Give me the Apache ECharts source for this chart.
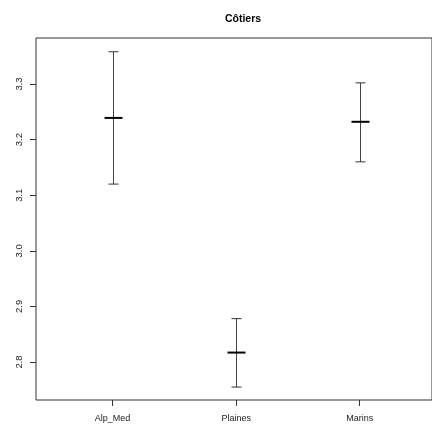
<!DOCTYPE html>
<html>
<head>
<meta charset="utf-8">
<script src="https://cdn.jsdelivr.net/npm/echarts@6/dist/echarts.min.js"></script>
<style>html,body{margin:0;padding:0;background:#fff}#c{width:432px;height:429px}</style>
</head>
<body>
<div id="c"></div>
<script>
var title = "Côtiers";
var categories = ["Alp_Med", "Plaines", "Marins"];
var means = [3.239, 2.817, 3.232];
var lows = [3.120, 2.755, 3.160];
var highs = [3.358, 2.878, 3.302];
var yTicks = [2.8, 2.9, 3.0, 3.1, 3.2, 3.3];

var data = categories.map(function (c, i) { return [i + 1, lows[i], means[i], highs[i]]; });

var chart = echarts.init(document.getElementById('c'));
chart.setOption({
  animation: false,
  backgroundColor: '#fff',
  title: {
    text: title, left: 238, top: 9, textAlign: 'center',
    textStyle: { fontFamily: 'Liberation Sans', fontSize: 10.5, fontWeight: 'bold', color: '#000' }
  },
  grid: { left: 36, top: 38, bottom: 29, right: -3, show: true, borderColor: '#333', borderWidth: 1, backgroundColor: 'transparent' },
  xAxis: {
    type: 'value', min: 0.38, max: 3.585, interval: 1,
    splitLine: { show: false },
    axisLine: { show: false },
    axisTick: { show: true, length: 6, lineStyle: { color: '#333' }, customValues: [1, 2, 3] },
    axisLabel: {
      customValues: [1, 2, 3], margin: 14, fontFamily: 'Liberation Sans', fontSize: 9, color: '#222',
      formatter: function (v) { return categories[Math.round(v) - 1] || ''; }
    }
  },
  yAxis: {
    type: 'value', min: 2.7317, max: 3.3827,
    splitLine: { show: false },
    axisLine: { show: false },
    axisTick: { show: true, length: 6, lineStyle: { color: '#333' }, customValues: yTicks },
    axisLabel: {
      customValues: yTicks, rotate: 90, margin: 12, fontFamily: 'Liberation Sans', fontSize: 9.5, color: '#222',
      formatter: function (v) { return v.toFixed(1); }
    }
  },
  series: [{
    type: 'custom',
    data: data,
    encode: { x: 0, y: [1, 2, 3] },
    renderItem: function (params, api) {
      var x = api.value(0);
      var lo = api.coord([x, api.value(1)]);
      var mid = api.coord([x, api.value(2)]);
      var hi = api.coord([x, api.value(3)]);
      var cx = Math.round(lo[0]) + 0.5;
      var capW = 5, meanW = 9;
      return {
        type: 'group',
        children: [
          { type: 'line', shape: { x1: cx, y1: hi[1], x2: cx, y2: lo[1] }, style: { stroke: '#444', lineWidth: 1 } },
          { type: 'line', shape: { x1: cx - capW, y1: hi[1], x2: cx + capW, y2: hi[1] }, style: { stroke: '#333', lineWidth: 1 } },
          { type: 'line', shape: { x1: cx - capW, y1: lo[1], x2: cx + capW, y2: lo[1] }, style: { stroke: '#333', lineWidth: 1 } },
          { type: 'line', shape: { x1: cx - meanW, y1: mid[1], x2: cx + meanW, y2: mid[1] }, style: { stroke: '#000', lineWidth: 2 } }
        ]
      };
    }
  }]
});
</script>
</body>
</html>
